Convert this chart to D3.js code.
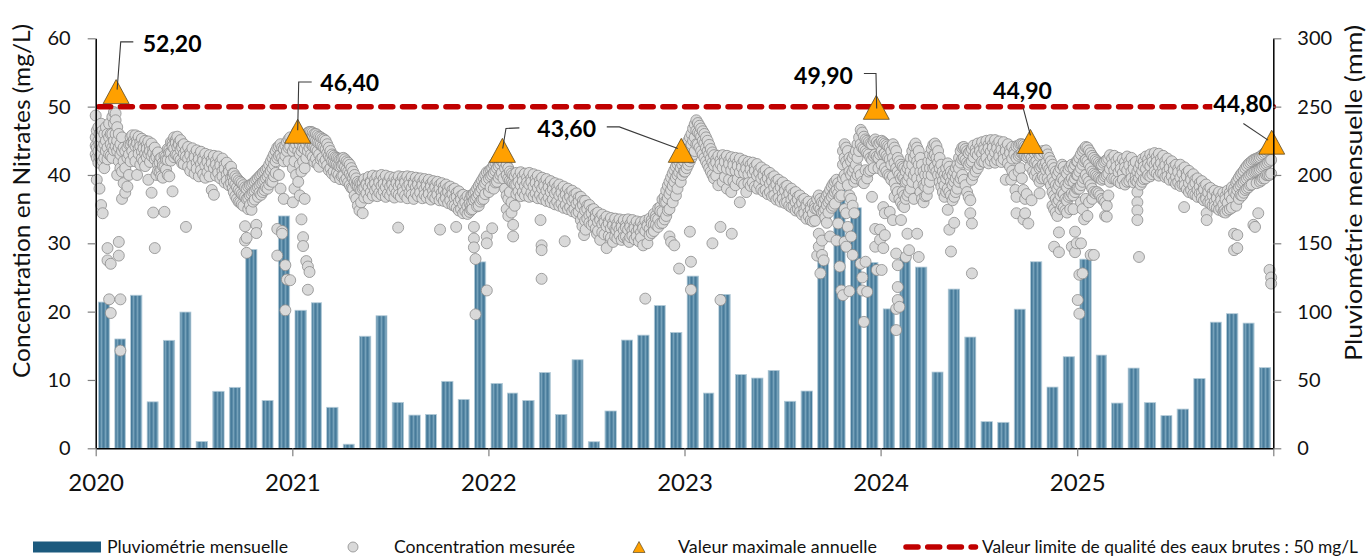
<!DOCTYPE html>
<html>
<head>
<meta charset="utf-8">
<script src="https://cdn.jsdelivr.net/npm/d3@7"></script>
<style>
  html, body { margin: 0; padding: 0; background: #fff; }
  svg { display: block; font-family: Lato, "Open Sans", sans-serif; }
</style>
</head>
<body>
<svg id="chart" width="1369" height="556"></svg>
<script>
// ---------- Monthly rainfall (mm), January to December ----------
const years = [2020, 2021, 2022, 2023, 2024, 2025];
const rain2020 = [107, 80, 112, 34, 79, 99.7, 5, 41.7, 44.6, 145.5, 35, 170];
const rain2021 = [101, 106.5, 30, 3, 82, 97, 33.6, 24.3, 24.8, 49, 35.8, 136.4];
const rain2022 = [47.5, 40.4, 35, 55.5, 24.8, 64.8, 4.8, 27.3, 79.2, 82.8, 104.5, 84.8];
const rain2023 = [126, 40.4, 112.6, 54, 51.4, 57, 34.4, 41.9, 137.7, 198, 176, 136];
const rain2024 = [102, 140.8, 132.6, 55.8, 116.5, 81.4, 19.5, 19, 101.8, 136.5, 44.8, 67];
const rain2025 = [138.4, 68.2, 33.1, 58.7, 33.4, 23.9, 28.7, 51, 92.3, 98.5, 91.6, 59];
const rainByYear = [rain2020, rain2021, rain2022, rain2023, rain2024, rain2025];

// ---------- Nitrate concentrations (mg/L): [day of year, measured values...] ----------
const conc2020 = [[1,48.7,45.5,44.3,43],[3,46.5,44,42.5,39.3],[6,47,45,43.5,41.8],[8,46,44.5,42.6,38],[11,47.5,45.5,43,35.6],[14,46.5,44,42,34.4],[17,46,44.5,42.5,41],[20,47,45,43.5],[23,46,44,42.3,29.3,27.5],[26,47.5,45.5,43,21.8],[29,46,44.5,42.8,27,19.8],[32,48.5,46,44,42.5],[35,49.2,47.5,45,43.6],[38,49,48,46,44.2],[39,52.2],[41,47,45,43.5,40],[44,46,44,42,30.2,28.2],[47,44.5,43,41,21.8,14.3],[50,45.5,43.5,40.5,36.5],[53,44,42,38.8],[56,43.5,41,37.4],[60,44,42.5,38.3],[63,44.5,43,40],[66,45.5,44.5,42],[69,45.8,44.8,43.5],[72,45.1,44.6,42.8],[75,45.8,44.2,42],[78,45.1,44.6,40],[81,45.6,43.9,43.1],[84,44.8,44.2,41.5],[87,45.3,43.4,42.4],[90,44.5,43.9,42],[93,45,43.1,41.3],[96,44.4,43.8,42.6],[99,44.9,43.1,39.3],[102,44.1,43.5,41.9],[105,44.6,42.8,37.4],[108,43.7,43.2,34.5],[111,44,42.3,29.3],[114,43,42.6,40],[117,43.3,41.5,40.6],[120,42.3,41.8,40.5],[123,42.5,40.8,39.8],[126,41.8,41.3,39.6],[129,42.8,41.2,34.6],[132,42.7,42.2,40.8],[135,43.8,42.2,40],[138,43.7,43.2,39.8],[141,44.8,43.2,42.1],[144,44.7,44.2,37.6],[147,45.5,43.9,42.6],[150,45.1,44.7,43],[153,45.6,44.1,42.9],[156,44.8,44.4,42.5],[159,45.1,43.7,42.2],[162,44.3,44,41.7],[165,44.5,43.1,41.6],[169,43.6,42.7,32.4],[173,44.1,42.4,41.2],[177,43.3,42.9,40.6],[181,43.9,42.1,41.4],[185,43,42.6,40.2],[189,43.6,41.8,40.9],[193,42.8,42.3,39.8],[197,43.4,41.6,40.7],[201,42.6,42.1,40.1],[205,43.1,41.4,39.6],[209,42.3,41.9,40.4],[213,42.9,41.2,39.8],[217,42.2,41.7,37.8],[221,42.8,41,37.1],[225,42.1,41.5,39.9],[229,42.7,40.9,40.3],[233,41.9,41.4,39.5],[237,42.4,40.6,39.8],[241,41.5,40.9,38.9],[245,41.8,40.1,39.2],[249,40.9,40.5,38.5],[253,41.2,39.6,38.8],[256,40.2,39.8,38.1],[258,40.2,39,37.5],[261,39.8,38.6,36.9],[264,39.5,38.2,36.5],[267,39.2,37.8,36.1],[270,39,37.5,36],[273,38.8,37.2,35.7],[276,38.5,37,35.5],[279,38.2,36.8,32.5,30.4],[282,38,36.5,30.8,28.6],[285,38.3,36.6,35],[288,38.5,37,35.6],[291,38.6,37.2,34.9],[294,38.8,37.5,36.1],[297,39,37.6,36.4],[300,39.3,38,32.7,31.5],[303,39.5,38.2,36.8],[306,39.8,38.5,37.4],[309,40,38.8,37.1],[312,40.3,39,37.5],[315,40.5,39.2,37.8],[318,40.8,39.5,38.2],[321,41,39.8,38],[324,41.5,40.2,38.6],[327,42,40.6,39.1],[330,42.5,41,39],[333,43,41.5,39.8],[336,43.5,42,40.3],[339,44,42.5,32.1,28.2],[342,44.2,42.8,40],[345,44.5,43,38],[348,44,42.5,31.8,31.4],[351,43.8,42,36.5],[354,44.3,42.8,26.8,20.2],[357,44.8,43.5,24.7],[360,45.2,44,42],[363,45.5,44.2,24.6]];

const conc2021 = [[2,45,43.5,41,36],[5,45.5,44,42,38],[8,45.8,44.5,40],[10,46.4],[12,45,43.5,39],[15,44.5,43,41.5,37],[18,45,43.5,40.5,33.5],[21,45.5,44,42,30.9,29.6],[24,45.2,43.8,41,36.5],[27,45.8,44.5,42.5,27.4],[30,46.2,45,43.5,26.6,23.2],[33,46.3,45.3,44,25.8],[36,46.3,45.5,44.5,43],[39,46.2,45.4,44.2,42.6],[42,46,45.2,44,41.9],[45,46,45,43.8,42.4],[48,45.8,44.8,43.5,41.6],[51,45.6,44.6,43,41.2],[54,45.5,44.5,42.3],[57,45.3,44.2,42.5],[60,45.2,44,41.8],[63,45,43.8,42.2],[66,44.5,43.2,41.4],[69,44,42.8,40.7],[72,43.5,42.5,41],[75,43,42,40.2],[78,42.8,41.8,40.5],[81,42.6,41.6,39.7],[84,42.5,41.5,40.3],[87,42.4,41.3,40],[90,42.3,41.2,39.4],[93,42.4,41.3,39.8],[96,42.5,41.5,39.9],[99,42.3,41.2,39.2],[102,42,40.8,39.5],[105,41.8,40.5,38.9],[108,41.5,40.2,38.5],[111,41,39.8,38.1],[114,40.5,39.5,38],[117,40,39,37],[120,39.5,38.5,36.5],[123,39,38.3,35.5],[126,38.8,38,34.8],[129,38.7,37.8,36],[132,38.8,38,34.4],[135,39.4,38.1,36.7],[139,38.8,38.6,37.3],[143,39.7,38.2,36.6],[147,39.1,38.9,37.5],[151,39.9,38.4,37],[155,39.3,38.7,37.7],[159,39.8,38.1,36.9],[163,39.2,38.9,37.4],[167,40,38.4,37.1],[171,39.4,38.7,37.6],[175,39.9,38.2,36.8],[179,39.1,38.8,37.3],[183,39.7,38.3,37],[187,39,38.6,37.6],[191,39.6,38.1,36.7],[195,39.2,38.8,37.4],[198,32.3],[199,39.8,38.3,37.1],[203,39.1,38.7,36.8],[207,39.7,38.2,37.5],[211,39.3,38.9,37],[215,39.8,38.3,36.6],[219,39.2,38.6,37.4],[223,39.7,38.1,37.1],[227,39,38.7,36.5],[231,39.6,38.2,37.3],[235,39.1,38.6,36.9],[239,39.5,38,37.4],[243,38.9,38.5,36.6],[247,39.4,37.9,37.1],[251,38.8,38.4,36.7],[255,39.3,37.8,37.2],[259,38.7,38.3,36.4],[263,39.1,37.7,36.9],[267,38.6,38.2,36.6],[271,39,37.6,37.1],[275,38.5,38,36.3],[276,32],[279,38.8,37.4,36.7],[283,38.3,37.8,36.2],[287,38.6,37.2,36.6],[291,38.1,37.5,35.9],[295,38.3,36.9,36.3],[299,37.8,37.2,35.6],[303,38,36.6,35.5],[306,32.4],[307,37.4,36.8,35.2],[311,37.6,36.1,34.8],[315,36.9,36.4,35],[319,37.1,35.7,34.4],[323,36.5,36,34.7],[327,36.9,35.4,34.3],[331,36.4,35.8,34.6],[334,37,35.5,34.9],[336,37,36,35],[339,37.3,36.3,32.4,30.7,29.4],[342,37.6,36.5,27.7,19.6],[345,38,36.8,35.4],[348,38.4,37.2,35.5],[351,38.8,37.6,36.1],[354,39.2,38,36.4],[357,39.6,38.4,36.5],[360,40,38.8,37.2],[363,40.4,39.2,31,30,23.1]];

const conc2022 = [[2,40.5,39.5,37.5],[5,40.8,39.8,38.2],[8,41,40,32.2],[11,41.5,40.3,38],[14,41.8,40.6,38.9],[17,42.2,41,39],[20,42.5,41.3,39.6],[23,42.8,41.6,40],[26,43.2,42,40.3],[27,43.6],[29,43,41.8,39.5],[32,42.5,41,38],[35,41.5,40,37,35],[38,41,39.5,36.5,34],[41,40.5,39.2,37.5],[44,40.2,39,36,34.5],[47,40,38.8,32.7,31],[50,39.8,38.6,35.5],[53,40.3,38.6,37.2],[57,39.7,39,37.6],[61,40.4,38.5,36.9],[65,39.8,39.1,37.5],[69,40.2,38.4,37],[73,39.6,38.9,37.7],[77,40.3,38.6,36.8],[81,39.5,39,37.4],[85,40.1,38.3,36.9],[89,39.4,38.8,37.3],[93,39.9,38.1,36.6],[97,39.2,38.6,37.1],[98,33.4],[100,29.7,29,24.8],[101,39.6,38,36.5],[105,38.9,38.4,36.9],[109,39.4,37.7,36.2],[113,38.7,38.2,36.7],[117,39.1,37.5,36],[121,38.4,37.9,36.4],[125,38.8,37.3,35.7],[129,38.2,37.6,36.1],[133,38.6,37,35.5],[137,37.9,37.4,35.8],[141,38.3,36.7,35.2],[143,30.3],[145,37.6,37.1,35.6],[149,38,36.5,35],[153,37.4,36.8,35.3],[157,37.7,36.2,34.7],[161,37.1,36.5,35],[165,37.3,35.8,34.4],[169,36.7,36.1,34.6],[173,36.8,35.3,33.4],[176,32.5],[177,36.2,35.6,34],[179,31.2],[181,36.2,34.8,33.3],[182,32],[185,35.5,35,33.6],[189,35.6,34.1,33],[193,34.9,34.4,32.7],[197,35,33.5,32.9],[201,34.3,33.8,32.2],[203,31.4],[205,34.5,33.1,31.8],[209,33.8,33.4,30.5],[213,34.2,32.8,31.6],[217,33.5,33.1,31.3],[221,33.9,32.5,29.3],[225,33.2,32.9,31.1],[229,33.7,32.2,30.8],[233,33,32.6,30.2],[237,33.6,32.1,31],[239,31.9],[241,32.9,32.5,30.7],[245,33.5,32,31.2],[249,32.8,32.4,30.5],[253,33.4,31.9,30.9],[257,32.7,32.3,31],[261,33.5,32,30.4],[263,30.2],[265,32.8,32.4,30.9],[269,33.4,31.9,31.1],[273,32.6,32.2,30.6],[277,33.2,31.7,31],[281,32.5,32.1,30.3],[285,33.1,31.6,30.8],[289,32.6,32.2,29.7],[293,33.3,31.8,21.9],[297,32.8,32.5,30],[301,33.6,32.1,31.2],[305,33.4,32.9,31.5],[309,34.3,32.8,31.8],[313,34.1,33.6,32.7],[317,35.1,33.5,32.4],[321,35.3,34.7,32.9],[325,36.4,34.6,33],[329,36.8,36,33.5],[332,37.7,36,34],[335,38.4,36.6,34.8],[338,39,37.2,35,31],[341,39.6,37.8,30.2],[344,40.2,38.4,36],[347,40.7,39,29.7],[350,41.2,39.6,37],[353,41.6,40,38],[356,42,40.4,26.3],[359,42.5,41,39],[360,43.6],[362,43,41.5,40],[365,43.5,42,40.5]];

const conc2023 = [[2,44,42.5,40.5],[5,44.5,43,41],[8,45,43.5,41.5],[11,45.5,44,42,31.7],[13,27.3,23.2],[14,46,44.5,42.5],[17,46.8,45,43],[20,47.4,45.5,43.5],[23,48,46.5,44.5],[26,47.6,46.2,44.5],[29,47.2,46,44],[32,46.8,45.6,43.5],[35,46.4,45,43],[38,46,44.6,42.5],[41,45.5,44,42],[44,45,43.5,41.5],[47,44.4,43,41],[50,43.8,42.4,40.5],[53,43.3,41.8,40,30],[56,42.9,41.4,39.5],[60,42.3,41.8,39.9],[64,42.8,41,38.5],[68,42.2,41.6,32.4,21.7],[72,42.9,41.1,39],[76,42.4,41.9,39.7],[80,42.8,40.9,38],[84,42.1,41.6,39.3],[88,42.6,40.7,37.5],[89,31.4],[92,41.9,41.4,39.1],[96,42.5,40.6,38.5],[100,41.8,41.3,39.4],[104,42.4,40.4,36],[108,41.6,41.1,38.9],[112,42.1,40.3,38.6],[116,41.4,40.9,37.5],[120,41.9,40.1,38.8],[124,41.5,40.8,38.4],[128,41.8,40.2,38.9],[132,41.2,40.6,38.3],[136,41.6,39.9,38],[140,40.8,40.3,38.6],[144,41.1,39.5,37.9],[148,40.4,39.9,37.6],[152,40.7,39.1,37.8],[156,40,39.5,37.2],[160,40.3,38.7,37.5],[164,39.6,39.1,36.9],[168,39.8,38.2,37],[172,39.1,38.6,36.4],[176,39.3,37.8,36.6],[180,38.6,38.2,36.1],[184,38.9,37.3,36.5],[188,38.2,37.7,35.9],[192,38.4,36.9,36],[196,37.7,37.3,35.5],[200,38,36.4,35.3],[204,37.3,36.8,35.4],[208,37.5,36,34.8],[212,36.8,36.4,35],[216,37,35.5,34.6],[220,36.3,35.9,34.2],[224,36.5,35,34.4],[228,35.8,35.4,33.6],[232,36.1,34.6,34],[236,35.4,35,33.4],[240,35.8,34.4,33.2],[244,35.6,35.1,33.3],[248,36.5,35,28.2],[251,37,35.3,31.4,29.5],[254,36.5,35,25.6],[257,36,34.5,30.4,28.3],[260,35.8,34.6,27.5],[263,36.5,35,33.8],[266,37,35.6,33],[269,37.3,36,34.5],[272,37.8,36.4,31],[275,38.3,36.8,35.2],[278,38.7,37.2,35.5],[281,39,37.5,35.8],[284,39.3,37.8,30.4],[287,38.8,37.3,32.9],[290,38.3,36.8,26.6],[293,38.5,37,23.1],[296,43.5,41.5,39.5,22.4],[299,44.5,42.5,40,35,30.2],[302,44,42,39.5,34.4,29.5],[305,43.5,41.5,38.5,32.4],[308,42.5,40.5,37,23],[311,42,40,36.5,31],[314,42.5,40.5,35.5,28.3],[317,43,41,39,34.4],[320,43.5,41.5,39.5],[323,44.5,42.5,40],[326,45.5,43.5,40.7],[329,46.6,44.5,40,27],[332,46.2,44,39,25,23.1],[335,45.6,43.8,38.8,18.5],[338,45.2,43.5,40.7,27.3],[341,45,43.2,39.5,22.9],[344,44.8,43,40.5],[347,44.6,42.5,40.7],[350,44.5,42.2,36.8],[353,45,42.8,41],[356,45.2,43,32.1,29.5],[358,49.9],[359,44.8,42.7,26.1],[362,44.5,42.5,41],[365,44.7,43,32,30.5]];

const conc2024 = [[3,45,43.5,41.5,26.1],[6,44.8,43,40.5,35.3,29.3],[9,44.6,43.2,41,34.4,31.2],[12,44.4,42.8,40.5],[15,44.2,42.5,40],[18,44,42.3,39.8,34.6],[21,43.5,41.5,39.3],[24,44.5,42.5,39.8,33.4],[27,44,41.8,38.8,36.8],[30,43.5,41,38,28.5,20.4,17.3],[33,42.5,40.5,37.5,26.8,23.6,21.7],[36,42,40,36.5,20.7],[39,41.5,39.5,36,33.4],[42,41.2,39.8,37.5,35.5],[45,41,39.5,37,35.3],[48,40.5,39,36.5,28],[51,41,39.2,37,31.4],[54,41.5,39.8,37.5,29],[57,42.5,40.5,38],[60,43.5,41.5,39],[63,44.2,42.5,40,36.5],[66,44.6,43,40.5],[69,44,42,39.5,31.4],[72,43.5,41.5,38.5,28],[75,42.5,40.5,37.5],[78,41.5,39.5,36.5],[81,40.5,38.5,36],[84,40,38.3,36.9],[87,41,39,37],[90,42,40,38],[93,43,41,39],[96,43.8,42,40],[99,44.4,42.8,41],[102,44.6,43,41.2],[105,44.2,42.5,40.5],[108,43.5,41.8,40],[111,42.5,41,39],[114,41.5,40,38.3],[117,40.5,39.2,37.5],[120,40,38.5,36.8],[123,41,39.5,37.5],[126,41.7,40,38,34.9],[129,41.2,39.8,37.5,32],[132,40.5,39,37,28.8],[135,40,38.5,36.3],[138,40.5,39,36.8,33],[141,41,39.5,37.5],[144,41.5,40,38],[147,42.5,41,39],[150,43.5,41.8,39.5],[153,44,42.3,40],[156,44.1,42.5,39.3],[159,43.8,42.2,38.5],[162,43.5,41.8,37.5],[165,43.2,41.5,36.8],[168,43.5,41.8,36.3,34.4],[171,43.8,42,39.3,32.9,25.6],[174,44.3,42.6,40],[178,43.8,43.2,40.5],[182,44.6,42.9,41],[186,44,43.5,41.6],[190,44.8,43.1,42],[194,44.2,43.7,41.9],[198,45,43.3,42.5],[202,44.4,43.9,41.7],[206,45.1,43.4,42.1],[210,44.5,44,42.6],[214,45.1,43.3,41.8],[218,44.4,43.9,42.2],[222,44.9,43.2,42.7],[226,44.2,43.7,41.9],[230,44.8,43,42.3],[234,44,43.5,39.3],[238,44.5,42.7,41.7],[242,43.7,43.2,41.2],[244,39.3],[246,44.1,42.4,40.6],[250,43.5,43,40],[252,37.8],[254,44.2,42.5,36.8,34.4],[258,44.3,42.8,40.5],[261,44.5,43,41],[264,44.5,43.2,39.5],[267,44.4,43,37.8,33.5],[270,44.2,42.8,36.5,34.4],[273,44,42.6,37.2],[276,44.2,42.8,32.9],[279,44.4,43,41.2],[280,44.9],[282,44,42.5,36.3],[285,43.5,42,40.5],[288,43.2,41.8,40],[291,43.6,42,40.5],[294,43.2,41.5,39.5],[297,42.8,41,39,37.3],[300,43,41.2,39.5],[303,43.5,41.5,39.8],[306,43.2,41.2,39.5],[309,43.6,41.8,40.7],[312,43,41.2,39.5],[315,42.5,40.8,39],[318,42,40.5,38.5],[321,41.5,39.5,37.5,35.5],[324,41,39,37,35,29.5],[327,40.5,38.5,36.5,34.5],[330,40,38,36,34],[333,40.5,38.5,36.3,31.6,28.7],[336,41,39,37,35],[339,41.5,39.5,37.5,35.5],[342,41.2,39.2,37.2,35.2],[345,40.5,38.5,36.5,34.8],[348,40.2,38.2,36.2,34.5],[351,40.8,38.8,36.8],[354,41.2,39.2,37,35],[357,41.5,39.5,37.3,29.5],[360,41,39,37,35],[363,41.5,39.5,37.5,31.7,28.7],[366,42,40,38,30]];

const conc2025 = [[2,42,40,38,21.7],[5,42.5,40.5,38,25.4,19.7],[8,43,41,38.5,36,30],[11,43.5,41.5,39,35,25.6],[14,43.8,42,39.5,33.5],[17,44.1,42.2,40,36.5],[20,44,42,39.5,34],[23,43.6,41.5,39,36],[26,43.2,41,38.5,28.3],[29,42.8,40.5,38,36.5],[32,42.5,40.2,37.5,28.3],[35,42.2,40,37.3],[38,42,39.8,37.5],[41,41.8,39.6,37.3],[44,41.6,39.5,37],[47,41.5,39.3,36.5],[50,41.8,39.5,36.3],[53,42,39.8,36,34],[56,42.2,40,35.5,33.9],[59,42.4,40.2,37],[62,42.9,40.9,39],[66,42.4,41.5,39.5],[70,42.8,40.7,39.5],[74,42.1,41.2,39.3],[78,42.5,40.4,39],[82,41.7,40.9,38.8],[86,42.3,40.3,39.3],[90,41.9,41.1,38.6],[94,42.7,40.7,39],[98,42,41.4,39.1],[102,42.5,40.5,39.5],[106,41.6,40.9,38.9],[110,41.9,39.8,39.2],[113,40.5,39,37.5,36,34.8,33.4],[116,41,39.5,28],[119,41.6,40.1,38.6],[122,42.3,40.6,39],[125,42,41.2,39.4],[129,42.7,40.9,39.5],[133,42.3,41.6,40],[137,43,41.3,39.8],[141,42.5,41.9,40.1],[145,43.2,41.5,40.5],[149,42.6,41.9,40.2],[153,43.1,41.3,39.9],[157,42.4,41.7,40.3],[161,42.8,41,40.2],[165,42,41.4,39.7],[169,42.4,40.6,39.8],[173,41.6,41,39.3],[177,42,40.2,39.8],[181,41.2,40.7,39.1],[185,41.5,39.7,38.7],[189,40.9,40.4,38.9],[193,41.5,39.6,38.4],[197,40.8,40.2,38.6],[200,35.3],[201,41.1,39.3,38.5],[205,40.3,39.8,37.9],[209,40.6,38.8,37.5],[213,39.8,39.3,37.8],[217,40.1,38.4,37.2],[221,39.3,38.8,37.1],[225,39.5,37.8,36.8],[229,38.8,38.3,37.3],[233,39.1,37.4,36.6],[237,38.3,37.9,36.3],[241,38.6,36.9,36.5],[242,34.4,33.4],[245,37.9,37.4,36],[249,38.1,36.5,35.8],[253,37.4,37,35.5],[257,37.7,36.1,35.4],[261,37,36.6,35.2],[265,37.5,35.8,34.9],[269,36.8,36.3,35.1],[273,37.4,35.7,34.6],[275,34.8],[277,36.9,36.4,34.5],[281,37.7,35.9,34.8],[285,37.4,36.9,35],[289,38.2,36.4,35.2],[293,38,37.5,31.4,29],[297,38.9,37.1,35.5],[299,39.2,37.8,31.2,29.3],[302,39.6,38.2,36.5],[305,40,38.5,37.1],[308,40.3,38.8,37],[311,40.6,39,37.4],[314,41,39.3,37.8],[317,41.3,39.5,38],[320,41.6,39.8,38.2],[323,41.8,40,38.5],[326,42,40.2,38.6],[329,42.2,40.4,32.7],[332,42.3,40.5,32.4],[335,42.4,40.6,38.8],[338,42.5,40.7,34.4],[341,42.6,40.8,39],[344,42.8,41,39.2],[347,43,41.2,39.5],[350,43.2,41.4,39.5],[353,43.4,41.6,40],[356,43.6,41.8,40],[359,43.8,42,40,26.1],[362,44,42.2,40.2,25,24.1],[363,44.8]];
const concByYear = [conc2020, conc2021, conc2022, conc2023, conc2024, conc2025];

// ---------- Annual maxima (mg/L) ----------
const maxDates = ["2020-02-08", "2021-01-11", "2022-01-27", "2022-12-26", "2023-12-24", "2024-10-06", "2025-12-29"];
const maxValues = [52.2, 46.4, 43.6, 43.6, 49.9, 44.9, 44.8];

// ---------- Quality limit and axes ----------
const limitValue = 50;
const concTicks = [0, 10, 20, 30, 40, 50, 60];
const rainTicks = [0, 50, 100, 150, 200, 250, 300];
const yearTicks = [2020, 2021, 2022, 2023, 2024, 2025, 2026];
const yearLabels = ["2020", "2021", "2022", "2023", "2024", "2025", ""];
const leftTitle = "Concentration en Nitrates (mg/L)";
const rightTitle = "Pluviométrie mensuelle (mm)";
const legendLabels = ["Pluviométrie mensuelle", "Concentration mesurée", "Valeur maximale annuelle", "Valeur limite de qualité des eaux brutes : 50 mg/L"];

// ---------- Layout ----------
const svg = d3.select("#chart");
const plot = { left: 95.7, right: 1273.3, top: 38.3, bottom: 448.3 };

const x = d3.scaleUtc()
  .domain([Date.UTC(2020, 0, 1), Date.UTC(2026, 0, 1)])
  .range([plot.left, plot.right]);
const yConc = d3.scaleLinear().domain([0, 60]).range([plot.bottom, plot.top]);
const yRain = d3.scaleLinear().domain([0, 300]).range([plot.bottom, plot.top]);

// Striped texture for the rainfall bars
const defs = svg.append("defs");
const pat = defs.append("pattern")
  .attr("id", "barTex").attr("patternUnits", "userSpaceOnUse")
  .attr("width", 4).attr("height", 10);
pat.append("rect").attr("width", 4).attr("height", 10).attr("fill", "#5a8aa6");
pat.append("rect").attr("x", 1).attr("width", 1).attr("height", 10).attr("fill", "#76a2bb");
pat.append("rect").attr("x", 3).attr("width", 0.7).attr("height", 10).attr("fill", "#3f7596");

// Rainfall bars, centred on each month
const barData = [];
years.forEach((yr, i) => {
  rainByYear[i].forEach((mm, m) => barData.push({ yr, m, mm }));
});
svg.append("g").selectAll("rect").data(barData).join("rect")
  .attr("x", d => {
    const x0 = x(Date.UTC(d.yr, d.m, 1)), x1 = x(Date.UTC(d.yr, d.m + 1, 1));
    return (x0 + x1) / 2 - (x1 - x0) * 0.34;
  })
  .attr("width", d => (x(Date.UTC(d.yr, d.m + 1, 1)) - x(Date.UTC(d.yr, d.m, 1))) * 0.68)
  .attr("y", d => yRain(d.mm))
  .attr("height", d => yRain(0) - yRain(d.mm))
  .attr("fill", "url(#barTex)")
  .attr("stroke", "#b4cbd8").attr("stroke-width", 0.8);

// Measured concentrations
const dots = [];
years.forEach((yr, i) => {
  concByYear[i].forEach(([day, ...vals]) => {
    vals.forEach(v => dots.push({ t: Date.UTC(yr, 0, day), v }));
  });
});
svg.append("g").selectAll("circle").data(dots).join("circle")
  .attr("cx", d => x(d.t)).attr("cy", d => yConc(d.v)).attr("r", 5.5)
  .attr("fill", "#d9d9d9").attr("stroke", "#8c8c8c").attr("stroke-width", 0.8);

// Quality limit line
svg.append("line")
  .attr("x1", plot.left + 3).attr("x2", plot.right)
  .attr("y1", yConc(limitValue)).attr("y2", yConc(limitValue))
  .attr("stroke", "#c00000").attr("stroke-width", 5.5)
  .attr("stroke-dasharray", "12,9.7").attr("stroke-linecap", "round");

// Annual maxima triangles
const maxPts = maxDates.map((s, i) => {
  const [Y, M, D] = s.split("-").map(Number);
  return { cx: x(Date.UTC(Y, M - 1, D)), cy: yConc(maxValues[i]), v: maxValues[i] };
});
const tri = "M0,-12L13,12L-13,12Z";
svg.append("g").selectAll("path").data(maxPts).join("path")
  .attr("d", tri)
  .attr("transform", d => `translate(${d.cx},${d.cy})`)
  .attr("fill", "#ffa000").attr("stroke", "#5a4a2a").attr("stroke-width", 0.8);

// Callouts: label offset from its triangle and leader polylines relative to triangles
const callouts = [
  { at: 0, dx: 56, dy: -48, leaders: [[0, [[1, -2], [4.6, -49.7], [17.2, -49.7]]]] },
  { at: 1, dx: 52, dy: -49, leaders: [[1, [[0, -1], [1, -49.3], [14, -49.3]]]] },
  { at: 2, dx: 64.3, dy: -22, leaders: [[2, [[0.3, -1.9], [3.6, -21.9], [17, -22.5]]], [3, [[-74.5, -23.5], [-61.9, -23.5], [-3.5, -1.9]]]] },
  { at: 4, dx: -52.8, dy: -32, leaders: [[4, [[-12.4, -33.8], [-0.3, -33.8], [0.4, 1.2]]]] },
  { at: 5, dx: -8, dy: -51, leaders: [[5, [[-7.2, -33], [0, -6]]]] },
  { at: 6, dx: -29, dy: -38.7, leaders: [[6, [[-28.3, -18.7], [-3.6, -2]]]] }
];
const fmt = v => d3.format(".2f")(v).replace(".", ",");
const line = d3.line();
const gCall = svg.append("g");
callouts.forEach(c => {
  c.leaders.forEach(([idx, pts]) => {
    const p = maxPts[idx];
    gCall.append("path")
      .attr("d", line(pts.map(([a, b]) => [p.cx + a, p.cy + b])))
      .attr("fill", "none").attr("stroke", "#3a3a3a").attr("stroke-width", 1.1);
  });
});
callouts.forEach(c => {
  const p = maxPts[c.at];
  const g = gCall.append("g").attr("transform", `translate(${p.cx + c.dx},${p.cy + c.dy})`);
  const bg = g.append("rect").attr("fill", "#fff");
  const t = g.append("text")
    .attr("text-anchor", "middle").attr("dy", "0.36em")
    .attr("font-size", 23).attr("font-weight", 700).attr("fill", "#000")
    .text(fmt(maxValues[c.at]));
  const bb = t.node().getBBox();
  bg.attr("x", bb.x - 1).attr("y", bb.y + 2).attr("width", bb.width + 2).attr("height", bb.height - 4);
});

// Axes
function styleAxis(g, fs) {
  g.select(".domain").attr("stroke", "#000").attr("stroke-width", 1.5);
  g.selectAll(".tick line").attr("stroke", "#7f7f7f").attr("stroke-width", 1.2);
  g.selectAll(".tick text").attr("fill", "#111").attr("font-size", fs)
    .attr("font-family", "Lato, 'Open Sans', sans-serif");
}
const axL = svg.append("g").attr("transform", `translate(${plot.left},0)`)
  .call(d3.axisLeft(yConc).tickValues(concTicks).tickSize(8).tickSizeOuter(0).tickPadding(17));
styleAxis(axL, 20);
const axR = svg.append("g").attr("transform", `translate(${plot.right},0)`)
  .call(d3.axisRight(yRain).tickValues(rainTicks).tickSize(8).tickSizeOuter(0).tickPadding(16));
styleAxis(axR, 20);
const axB = svg.append("g").attr("transform", `translate(0,${plot.bottom})`)
  .call(d3.axisBottom(x).tickValues(yearTicks.map(yr => new Date(Date.UTC(yr, 0, 1))))
    .tickFormat((d, i) => yearLabels[i]).tickSize(8).tickSizeOuter(0).tickPadding(17.6));
styleAxis(axB, 24);

// Axis titles
svg.append("text")
  .attr("transform", "translate(30,201) rotate(-90)")
  .attr("text-anchor", "middle").attr("font-size", 24).attr("fill", "#111")
  .attr("textLength", 354).attr("lengthAdjust", "spacingAndGlyphs")
  .text(leftTitle);
svg.append("text")
  .attr("transform", "translate(1362,193) rotate(-90)")
  .attr("text-anchor", "middle").attr("font-size", 23).attr("fill", "#111")
  .attr("textLength", 336).attr("lengthAdjust", "spacingAndGlyphs")
  .text(rightTitle);

// Legend
const lg = svg.append("g").attr("font-size", 17).attr("fill", "#111");
const legY = 547;
lg.append("rect").attr("x", 33).attr("y", legY - 5.5).attr("width", 68).attr("height", 11).attr("fill", "#1c5a7e");
lg.append("circle").attr("cx", 353).attr("cy", legY).attr("r", 5)
  .attr("fill", "#d9d9d9").attr("stroke", "#8c8c8c").attr("stroke-width", 0.8);
lg.append("path").attr("d", "M0,-5.5L6,5.5L-6,5.5Z").attr("transform", `translate(639,${legY})`)
  .attr("fill", "#ffa000").attr("stroke", "#5a4a2a").attr("stroke-width", 0.7);
lg.append("line").attr("x1", 906).attr("x2", 975.5).attr("y1", legY).attr("y2", legY)
  .attr("stroke", "#c00000").attr("stroke-width", 5.5)
  .attr("stroke-dasharray", "12,9.7").attr("stroke-linecap", "round");
const legText = [[107, 181], [394, 181], [678, 199], [982, 376]];
legendLabels.forEach((s, i) => {
  lg.append("text").attr("x", legText[i][0]).attr("y", legY + 5.5)
    .attr("textLength", legText[i][1]).attr("lengthAdjust", "spacingAndGlyphs")
    .text(s);
});
</script>
</body>
</html>
